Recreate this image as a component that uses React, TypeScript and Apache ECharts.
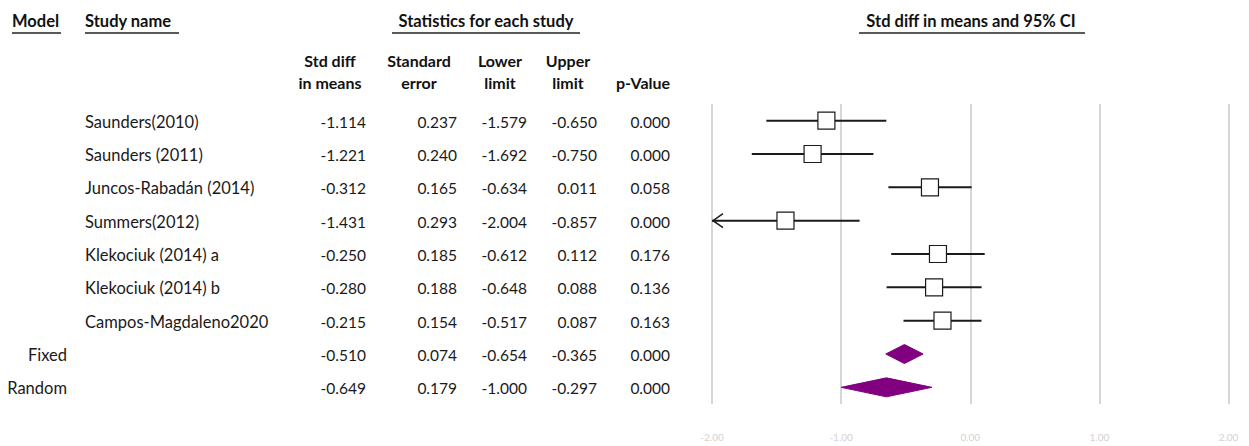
import React, { useEffect, useRef } from "react";
import * as echarts from "echarts";

// ---- Data ----
const models = ["", "", "", "", "", "", "", "Fixed", "Random"];
const studyNames = [
  "Saunders(2010)",
  "Saunders (2011)",
  "Juncos-Rabadán (2014)",
  "Summers(2012)",
  "Klekociuk (2014) a",
  "Klekociuk (2014) b",
  "Campos-Magdaleno2020",
  "",
  "",
];
const stdDiff = [-1.114, -1.221, -0.312, -1.431, -0.25, -0.28, -0.215, -0.51, -0.649];
const stdErr = [0.237, 0.24, 0.165, 0.293, 0.185, 0.188, 0.154, 0.074, 0.179];
const lowerLimit = [-1.579, -1.692, -0.634, -2.004, -0.612, -0.648, -0.517, -0.654, -1.0];
const upperLimit = [-0.65, -0.75, 0.011, -0.857, 0.112, 0.088, 0.087, -0.365, -0.297];
const pValue = [0.0, 0.0, 0.058, 0.0, 0.176, 0.136, 0.163, 0.0, 0.0];
const isSummary = [0, 0, 0, 0, 0, 0, 0, 1, 1];
const xTicks = [-2, -1, 0, 1, 2];
const topHeaders = ["Model", "Study name", "Statistics for each study", "Std diff in means and 95% CI"];
const colHeaderLine1 = ["Std diff", "Standard", "Lower", "Upper", ""];
const colHeaderLine2 = ["in means", "error", "limit", "limit", "p-Value"];

// ---- Layout ----
const W = 1249;
const H = 446;
const FONT = "Lato, 'Open Sans', sans-serif";
const colRight = [366, 457, 527, 597, 670];
const colHeaderCenter = [330, 419, 500, 568, 643];
const topHeaderPos = [
  { x: 12, align: "left", ux1: 12, ux2: 61 },
  { x: 85, align: "left", ux1: 85, ux2: 179 },
  { x: 486, align: "center", ux1: 392, ux2: 580 },
  { x: 971, align: "center", ux1: 859, ux2: 1085 },
];

export default function App() {
  const ref = useRef<HTMLDivElement>(null);

  useEffect(() => {
    if (!ref.current) return;
    const chart = echarts.init(ref.current, undefined, { renderer: "svg" });
    const rows = studyNames.map((_, i) => String(i));
    const cols = [stdDiff, stdErr, lowerLimit, upperLimit, pValue];

    const graphic: any[] = [];
    topHeaders.forEach((t, k) => {
      const p = topHeaderPos[k];
      graphic.push({
        type: "text",
        style: {
          text: t,
          x: p.x,
          y: 21,
          fill: "#111",
          font: `bold 16.5px ${FONT}`,
          textAlign: p.align,
          align: p.align,
          textVerticalAlign: "middle",
          verticalAlign: "middle",
        },
      });
      graphic.push({
        type: "line",
        shape: { x1: p.ux1, y1: 33, x2: p.ux2, y2: 33 },
        style: { stroke: "#222", lineWidth: 1.5 },
      });
    });
    colHeaderLine1.forEach((t, k) => {
      [t, colHeaderLine2[k]].forEach((s, j) => {
        if (!s) return;
        graphic.push({
          type: "text",
          style: {
            text: s,
            x: colHeaderCenter[k],
            y: j === 0 ? 60 : 82,
            fill: "#111",
            font: `bold 16px ${FONT}`,
            textAlign: "center",
            align: "center",
            textVerticalAlign: "middle",
            verticalAlign: "middle",
          },
        });
      });
    });

    const textStyle = (text: string, x: number, y: number, align: string, size: number) => ({
      type: "text",
      style: {
        text,
        x,
        y,
        fill: "#1a1a1a",
        font: `${size}px ${FONT}`,
        textAlign: align,
        align,
        textVerticalAlign: "middle",
        verticalAlign: "middle",
      },
    });

    const option: any = {
      animation: false,
      backgroundColor: "#ffffff",
      grid: { left: 712, width: 516.5, top: 104, height: 300 },
      xAxis: {
        type: "value",
        min: xTicks[0],
        max: xTicks[xTicks.length - 1],
        interval: 1,
        axisLine: { show: false },
        axisTick: { show: false },
        splitLine: { show: true, lineStyle: { color: "#c8c8c8", width: 1.5 } },
        axisLabel: {
          color: "#d2d2d2",
          fontSize: 10,
          fontFamily: FONT,
          margin: 28,
          formatter: (v: number) => v.toFixed(2),
        },
      },
      yAxis: {
        type: "category",
        data: rows,
        inverse: true,
        show: false,
      },
      graphic,
      series: [
        {
          type: "custom",
          name: "table",
          encode: { x: 0, y: 1 },
          data: rows.map((_, i) => [0, i]),
          renderItem: (params: any, api: any) => {
            const i = params.dataIndex;
            const y = api.coord([0, api.value(1)])[1] + 1;
            const children: any[] = [];
            if (models[i]) children.push(textStyle(models[i], 67, y, "right", 16.5));
            if (studyNames[i]) children.push(textStyle(studyNames[i], 85, y, "left", 16.5));
            cols.forEach((arr, c) => {
              children.push(textStyle(arr[i].toFixed(3), colRight[c], y, "right", 15.5));
            });
            return { type: "group", children };
          },
        },
        {
          type: "custom",
          name: "forest",
          encode: { x: [1, 2, 3], y: 0 },
          data: rows.map((_, i) => [i, lowerLimit[i], stdDiff[i], upperLimit[i], isSummary[i]]),
          renderItem: (params: any, api: any) => {
            const i = api.value(0);
            const lo = api.value(1);
            const est = api.value(2);
            const hi = api.value(3);
            const summ = api.value(4);
            const y = api.coord([0, i])[1];
            const xMin = api.coord([xTicks[0], i])[0];
            const xMax = api.coord([xTicks[xTicks.length - 1], i])[0];
            const xl = api.coord([lo, i])[0];
            const xe = api.coord([est, i])[0];
            const xh = api.coord([hi, i])[0];
            if (summ) {
              return {
                type: "polygon",
                shape: { points: [[xl, y], [xe, y - 9.5], [xh, y], [xe, y + 9.5]] },
                style: { fill: "#800080", stroke: "#800080", lineWidth: 1 },
              };
            }
            const children: any[] = [];
            const x1 = Math.max(xl, xMin);
            const x2 = Math.min(xh, xMax);
            children.push({
              type: "line",
              shape: { x1, y1: y, x2, y2: y },
              style: { stroke: "#1a1a1a", lineWidth: 2 },
            });
            if (xl < xMin) {
              children.push({
                type: "polyline",
                shape: { points: [[xMin + 11, y - 7], [xMin + 1, y], [xMin + 11, y + 7]] },
                style: { stroke: "#1a1a1a", lineWidth: 1.5, fill: "none" },
              });
            }
            children.push({
              type: "rect",
              shape: { x: xe - 8.5, y: y - 8.5, width: 17, height: 17 },
              style: { fill: "#ffffff", stroke: "#1a1a1a", lineWidth: 1.2 },
            });
            return { type: "group", children };
          },
        },
      ],
    };
    chart.setOption(option);
    return () => chart.dispose();
  }, []);

  return (
    <div
      ref={ref}
      style={{ position: "fixed", left: 0, top: 0, width: W, height: H, background: "#fff" }}
    />
  );
}
